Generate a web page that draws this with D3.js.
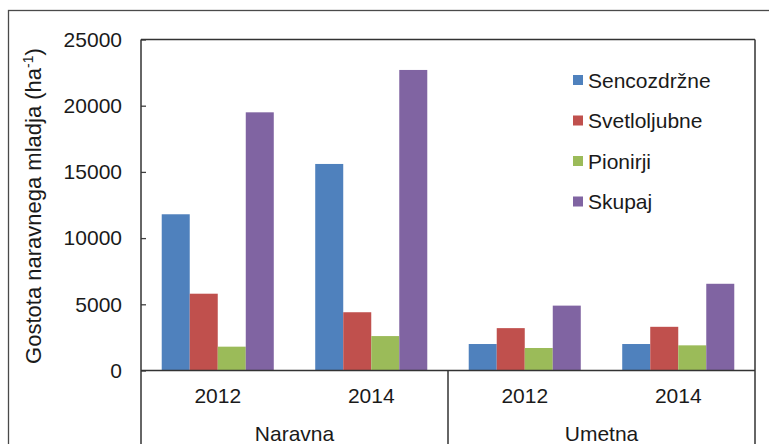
<!DOCTYPE html>
<html>
<head>
<meta charset="utf-8">
<script src="https://cdn.jsdelivr.net/npm/d3@7"></script>
<style>
  html, body { margin: 0; padding: 0; background: #fff; }
  svg { display: block; }
  text { font-family: "Liberation Sans", Arial, sans-serif; fill: #1a1a1a; }
</style>
</head>
<body>
<svg id="chart" width="769" height="444"></svg>
<script>
// ---- data ----
const groups = ["Naravna", "Umetna"];
const years = ["2012", "2014"];
const seriesNames = ["Sencozdržne", "Svetloljubne", "Pionirji", "Skupaj"];
const sencozdrzne = [11800, 15600, 2000, 2000];
const svetloljubne = [5800, 4400, 3200, 3300];
const pionirji = [1800, 2600, 1700, 1900];
const skupaj = [19500, 22700, 4900, 6550];
const yTicks = [0, 5000, 10000, 15000, 20000, 25000];
const colors = ["#4F81BD", "#C0504D", "#9BBB59", "#8064A2"];
const yTitle = "Gostota naravnega mladja (ha";

const seriesValues = [sencozdrzne, svetloljubne, pionirji, skupaj];
const cats = [];
groups.forEach(g => years.forEach(y => cats.push({ group: g, year: y, key: g + "|" + y })));

// ---- layout ----
const svg = d3.select("#chart");
const pLeft = 141, pRight = 755, pTop = 39.5, pBase = 370.5;

const x0 = d3.scaleBand().domain(cats.map(c => c.key)).range([pLeft, pRight]).paddingInner(0.27).paddingOuter(0.135);
const x1 = d3.scaleBand().domain(seriesNames).range([0, x0.bandwidth()]);
const y = d3.scaleLinear().domain([0, 25000]).range([pBase, pTop]);

// outer frame
svg.append("rect").attr("x", 8.5).attr("y", 10.5).attr("width", 800).attr("height", 500)
  .attr("fill", "none").attr("stroke", "#4a4a4a").attr("stroke-width", 1.3);

// bars
const gBars = svg.append("g");
cats.forEach((c, i) => {
  seriesNames.forEach((s, j) => {
    const v = seriesValues[j][i];
    gBars.append("rect")
      .attr("x", x0(c.key) + x1(s))
      .attr("y", y(v))
      .attr("width", x1.bandwidth())
      .attr("height", y(0) - y(v))
      .attr("fill", colors[j]);
  });
});

// y axis
const yAxis = d3.axisLeft(y).tickValues(yTicks).tickSizeInner(-5).tickSizeOuter(0).tickPadding(19).tickFormat(d3.format("d"));
const gy = svg.append("g").attr("transform", `translate(${pLeft},0)`).call(yAxis);
gy.select(".domain").remove();
gy.selectAll(".tick line").attr("stroke", "#404040").attr("stroke-width", 1.3);
gy.selectAll(".tick text").style("font-size", "21px").attr("fill", "#1a1a1a").style("font-family", "Liberation Sans, Arial, sans-serif");

// plot frame
const lineCol = "#333";
svg.append("line").attr("x1", pLeft).attr("x2", pRight).attr("y1", pTop).attr("y2", pTop).attr("stroke", lineCol).attr("stroke-width", 1.5);
svg.append("line").attr("x1", pLeft).attr("x2", pRight).attr("y1", pBase).attr("y2", pBase).attr("stroke", lineCol).attr("stroke-width", 1.5);
svg.append("line").attr("x1", pLeft).attr("x2", pLeft).attr("y1", pTop).attr("y2", 444).attr("stroke", lineCol).attr("stroke-width", 1.5);
svg.append("line").attr("x1", pRight).attr("x2", pRight).attr("y1", pTop).attr("y2", 444).attr("stroke", lineCol).attr("stroke-width", 1.5);
const divX = (x0(cats[1].key) + x0.bandwidth() + x0(cats[2].key)) / 2;
svg.append("line").attr("x1", divX).attr("x2", divX).attr("y1", pBase).attr("y2", 444).attr("stroke", lineCol).attr("stroke-width", 1.5);

// category labels
cats.forEach(c => {
  svg.append("text").attr("x", x0(c.key) + x0.bandwidth() / 2).attr("y", 403)
    .attr("text-anchor", "middle").style("font-size", "21px").text(c.year);
});
groups.forEach((g, gi) => {
  const xs = gi === 0 ? [pLeft, divX] : [divX, pRight];
  svg.append("text").attr("x", (xs[0] + xs[1]) / 2).attr("y", 441)
    .attr("text-anchor", "middle").style("font-size", "21px").text(g);
});

// y title
const yt = svg.append("text").attr("transform", `translate(41,${(pTop + pBase) / 2 + 1}) rotate(-90)`)
  .attr("text-anchor", "middle").style("font-size", "22px");
yt.append("tspan").text(yTitle);
yt.append("tspan").attr("baseline-shift", "super").style("font-size", "14px").text("-1");
yt.append("tspan").text(")");

// legend
const lg = svg.append("g");
seriesNames.forEach((s, i) => {
  const cy = 80 + i * 40.5;
  lg.append("rect").attr("x", 573).attr("y", cy - 5).attr("width", 10).attr("height", 10).attr("fill", colors[i]);
  lg.append("text").attr("x", 588).attr("y", cy + 7.5).style("font-size", "21px").text(s);
});
</script>
</body>
</html>
